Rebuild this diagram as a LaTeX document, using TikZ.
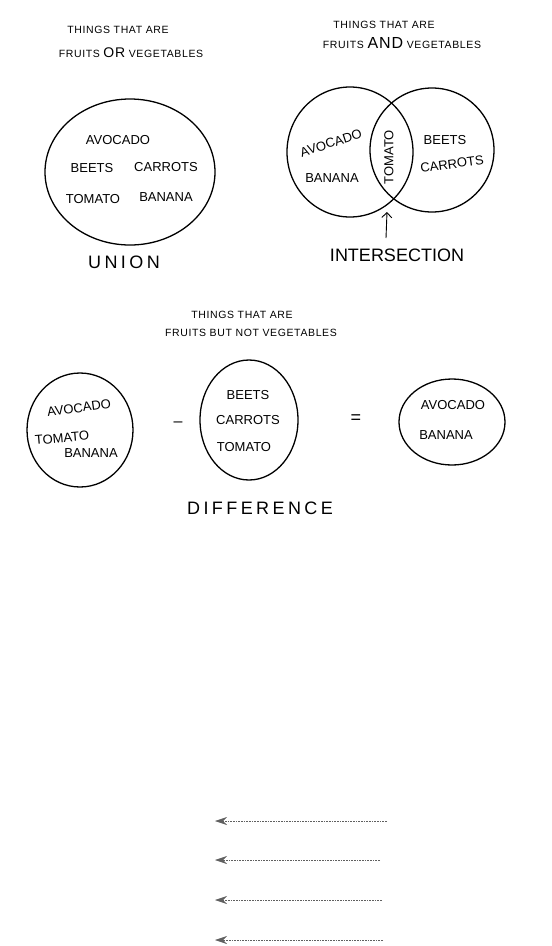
\documentclass[tikz,border=0pt]{standalone}
\usepackage{fontspec}
\setmainfont{Liberation Sans}
\usetikzlibrary{arrows.meta,shapes.geometric}

\begin{document}
\begin{tikzpicture}[
  x=1pt, y=-1pt,
  font=\fontsize{13}{15}\selectfont,
  heading/.style={font=\fontsize{10.5}{12}\selectfont\addfontfeatures{LetterSpace=6}, inner sep=1pt},
  item/.style={inner sep=1pt},
  big/.style={font=\fontsize{18}{21}\selectfont, inner sep=1pt},
  wide/.style={font=\fontsize{18}{21}\selectfont\addfontfeatures{LetterSpace=19}},
  set/.style={draw, ellipse, line width=1.3pt, inner sep=0pt},
  pointer/.style={draw=gray!75!black, densely dotted, line width=0.6pt,
    -{Stealth[length=12pt, width=8pt, inset=4pt, fill=gray!75!black]}}
]
\useasboundingbox (0,0) rectangle (552,946);

% union
\node[heading] (t1a) at (118,30) {THINGS THAT ARE};
\node[heading] (t1b) at (131,53) {FRUITS {\fontsize{14}{14}\selectfont OR} VEGETABLES};
\node[set, minimum width=170, minimum height=146] (u) at (130,172) {};
\node[item] (u1) at (118,140) {AVOCADO};
\node[item] (u2) at (92,168) {BEETS};
\node[item] (u3) at (166,167) {CARROTS};
\node[item] (u4) at (93,199) {TOMATO};
\node[item] (u5) at (166,197) {BANANA};
\node[big, wide] (un) at (124,262) {UNION};

% intersection
\node[heading] (t2a) at (384,25) {THINGS THAT ARE};
\node[heading] (t2b) at (402,43) {FRUITS {\fontsize{16}{16}\selectfont AND} VEGETABLES};
\node[set, minimum width=126, minimum height=130] (fr) at (350,152) {};
\node[set, minimum width=124, minimum height=124] (ve) at (432,150) {};
\node[item, rotate=18] (i1) at (331,143) {AVOCADO};
\node[item] (i2) at (332,178) {BANANA};
\node[item, rotate=90] (i3) at (389,157) {TOMATO};
\node[item] (i4) at (445,140) {BEETS};
\node[item, rotate=8] (i5) at (452,164) {CARROTS};
\node[big] (in) at (397,255) {INTERSECTION};
\coordinate (tail) at (386,238);
\coordinate (tip) at (387,212);
\draw[line width=0.9pt, -{Straight Barb[length=5pt]}] (tail) -- (tip);

% difference
\node[heading] (t3a) at (242,315) {THINGS THAT ARE};
\node[heading] (t3b) at (251,333) {FRUITS BUT NOT VEGETABLES};
\node[set, minimum width=106, minimum height=114] (d1) at (80,430) {};
\node[item, rotate=8] (d1a) at (79,408) {AVOCADO};
\node[item, rotate=5] (d1b) at (62,438) {TOMATO};
\node[item] (d1c) at (91,453) {BANANA};
\node[font=\fontsize{16}{16}\selectfont] (minus) at (178,424) {--};
\node[set, minimum width=98, minimum height=120] (d2) at (249,420) {};
\node[item] (d2a) at (248,395) {BEETS};
\node[item] (d2b) at (248,420) {CARROTS};
\node[item] (d2c) at (244,447) {TOMATO};
\node[font=\fontsize{18}{18}\selectfont] (eq) at (356,419) {=};
\node[set, minimum width=106, minimum height=86] (d3) at (452,422) {};
\node[item] (d3a) at (453,405) {AVOCADO};
\node[item] (d3b) at (446,435) {BANANA};
\node[big, wide] (df) at (260,508) {DIFFERENCE};

% pointers
\coordinate (p1) at (387,821); \coordinate (q1) at (215,821);
\coordinate (p2) at (380,860); \coordinate (q2) at (215,860);
\coordinate (p3) at (382,900); \coordinate (q3) at (215,900);
\coordinate (p4) at (383,940); \coordinate (q4) at (215,940);
\draw[pointer] (p1) -- (q1);
\draw[pointer] (p2) -- (q2);
\draw[pointer] (p3) -- (q3);
\draw[pointer] (p4) -- (q4);
\end{tikzpicture}
\end{document}
